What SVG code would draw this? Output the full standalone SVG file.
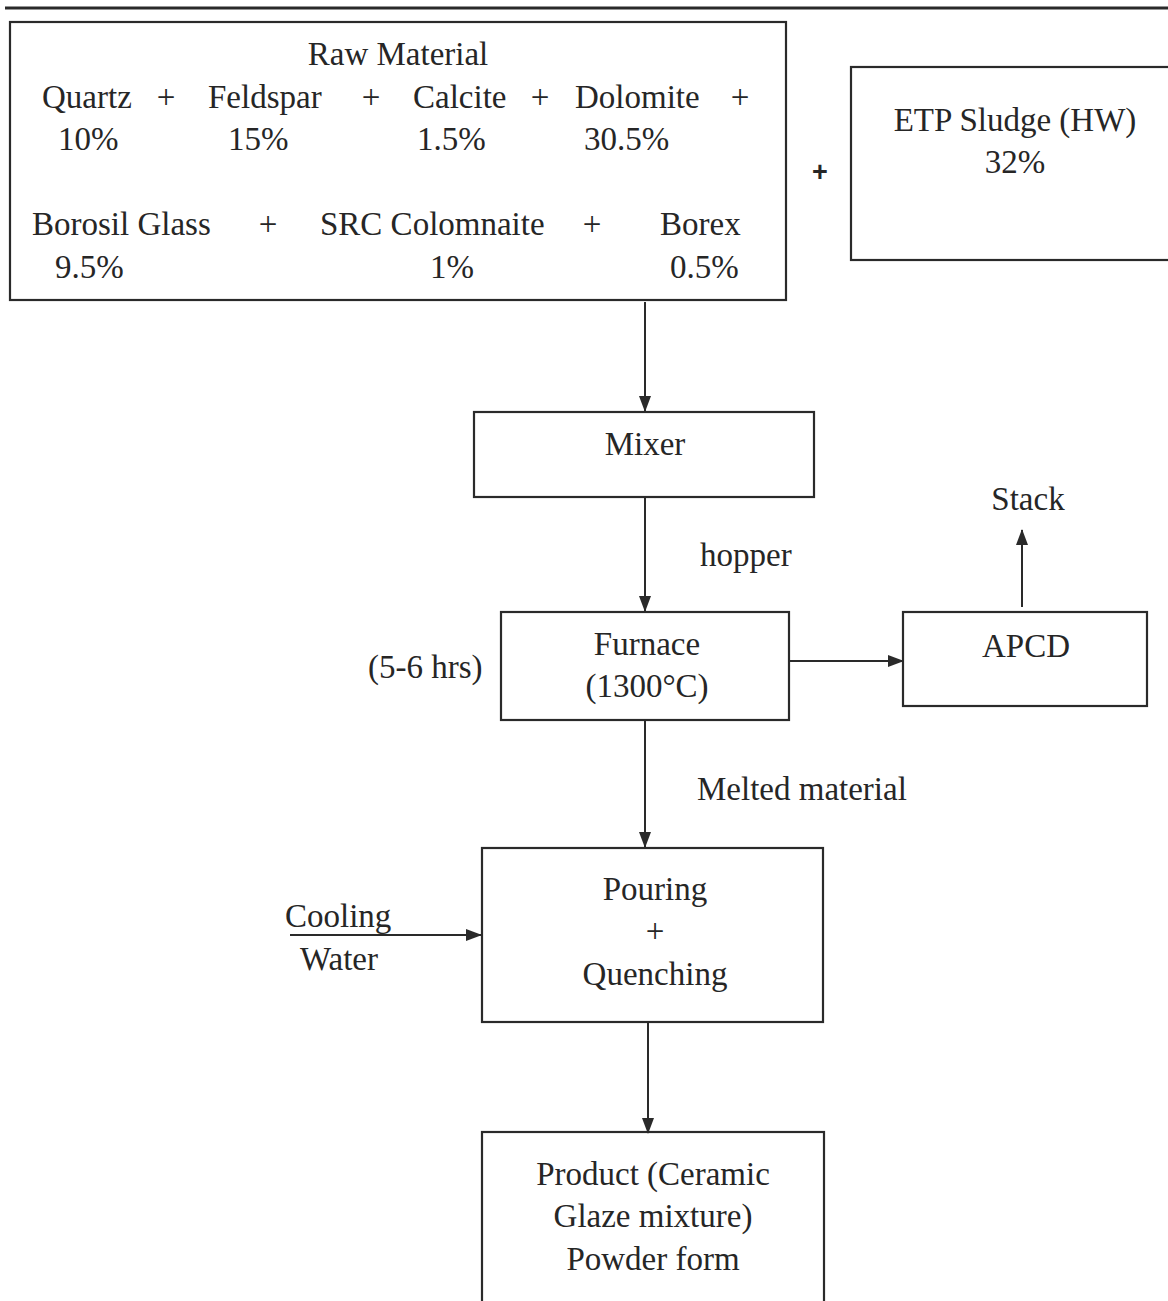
<svg xmlns="http://www.w3.org/2000/svg" width="1168" height="1301" viewBox="0 0 1168 1301">
<style>
text{font-family:"Liberation Serif","Times New Roman",serif;font-size:33px;fill:#262626}
.c{text-anchor:middle}
.box{fill:none;stroke:#2a2a2a;stroke-width:2.2}
.ln{stroke:#2a2a2a;stroke-width:2;fill:none}
</style>
<defs>
<marker id="ah" viewBox="0 0 16 12" refX="15" refY="6" markerWidth="16" markerHeight="12" markerUnits="userSpaceOnUse" orient="auto">
<path d="M0,0 L16,6 L0,12 Z" fill="#2a2a2a"/>
</marker>
</defs>
<rect width="1168" height="1301" fill="#fff"/>
<line x1="5" y1="8" x2="1168" y2="8" stroke="#2a2a2a" stroke-width="3"/>

<g id="raw-material">
<rect class="box" x="10" y="22" width="776" height="278"/>
<text class="c" x="398" y="65">Raw Material</text>
<text x="42" y="108">Quartz</text><text class="c" x="166" y="108">+</text>
<text x="208" y="108">Feldspar</text><text class="c" x="371" y="108">+</text>
<text x="413" y="108">Calcite</text><text class="c" x="540" y="108">+</text>
<text x="575" y="108">Dolomite</text><text class="c" x="740" y="108">+</text>
<text x="58" y="150">10%</text>
<text x="228" y="150">15%</text>
<text x="417" y="150">1.5%</text>
<text x="584" y="150">30.5%</text>
<text x="32" y="235">Borosil Glass</text><text class="c" x="268" y="235">+</text>
<text x="320" y="235">SRC Colomnaite</text><text class="c" x="592" y="235">+</text>
<text x="660" y="235">Borex</text>
<text x="55" y="278">9.5%</text>
<text x="430" y="278">1%</text>
<text x="670" y="278">0.5%</text>
</g>

<text x="820" y="181" class="c" style="font-family:'Liberation Sans',Arial,sans-serif;font-size:27px;font-weight:bold">+</text>

<g id="etp-sludge">
<rect class="box" x="851" y="67" width="330" height="193"/>
<text class="c" x="1015" y="131">ETP Sludge (HW)</text>
<text class="c" x="1015" y="173">32%</text>
</g>

<g id="mixer">
<rect class="box" x="474" y="412" width="340" height="85"/>
<text class="c" x="645" y="455">Mixer</text>
</g>

<g id="furnace">
<rect class="box" x="501" y="612" width="288" height="108"/>
<text class="c" x="647" y="655">Furnace</text>
<text class="c" x="647" y="697">(1300°C)</text>
</g>

<g id="apcd">
<rect class="box" x="903" y="612" width="244" height="94"/>
<text class="c" x="1026" y="657">APCD</text>
</g>

<g id="pouring">
<rect class="box" x="482" y="848" width="341" height="174"/>
<text class="c" x="655" y="900">Pouring</text>
<text class="c" x="655" y="942">+</text>
<text class="c" x="655" y="985">Quenching</text>
</g>

<g id="product">
<rect class="box" x="482" y="1132" width="342" height="190"/>
<text class="c" x="653" y="1185">Product (Ceramic</text>
<text class="c" x="653" y="1227">Glaze mixture)</text>
<text class="c" x="653" y="1270">Powder form</text>
</g>

<g id="labels">
<text class="c" x="1028" y="510">Stack</text>
<text x="700" y="566">hopper</text>
<text x="368" y="678">(5-6 hrs)</text>
<text x="697" y="800">Melted material</text>
<text x="285" y="927">Cooling</text>
<text x="300" y="970">Water</text>
</g>

<g id="connectors">
<line class="ln" x1="645" y1="302" x2="645" y2="411" marker-end="url(#ah)"/>
<line class="ln" x1="645" y1="497" x2="645" y2="611" marker-end="url(#ah)"/>
<line class="ln" x1="789" y1="661" x2="903" y2="661" marker-end="url(#ah)"/>
<line class="ln" x1="1022" y1="607" x2="1022" y2="530" marker-end="url(#ah)"/>
<line class="ln" x1="645" y1="720" x2="645" y2="847" marker-end="url(#ah)"/>
<line class="ln" x1="290" y1="935" x2="481" y2="935" stroke-width="2.5" marker-end="url(#ah)"/>
<line class="ln" x1="648" y1="1022" x2="648" y2="1133" marker-end="url(#ah)"/>
</g>
</svg>
